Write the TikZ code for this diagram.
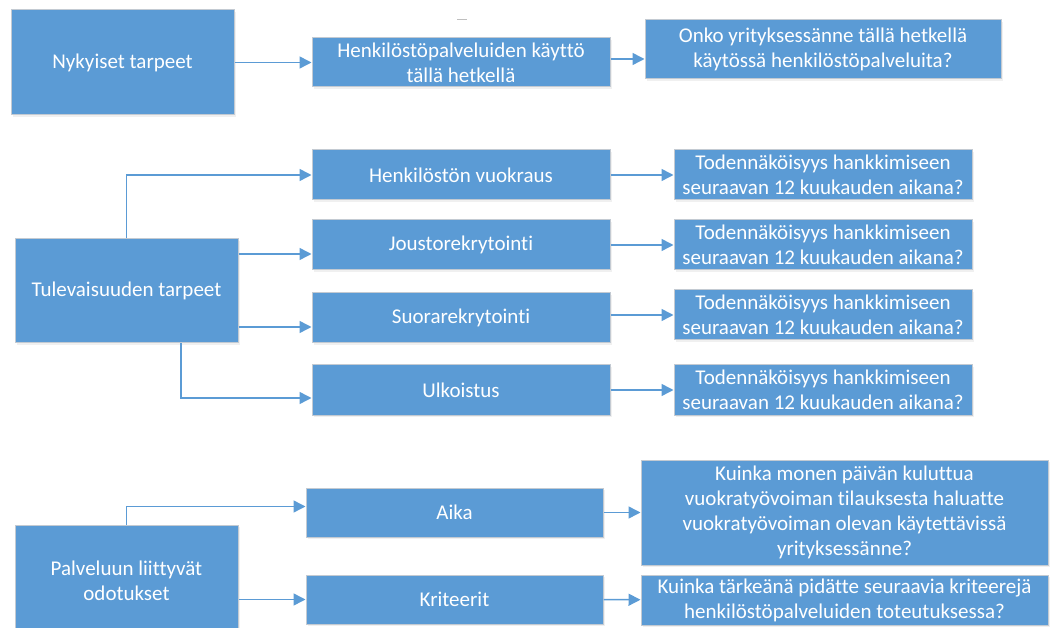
\documentclass[tikz,border=0pt]{standalone}
\usepackage{fontspec}
\setmainfont{Carlito}[Ligatures=NoCommon]
\usetikzlibrary{arrows.meta, shadows}

\definecolor{boxblue}{HTML}{5B9BD5}
\definecolor{boxedge}{HTML}{C3CAD2}

\tikzset{
  box/.style={draw=boxedge, fill=boxblue, line width=1pt, text=white,
    align=center, inner sep=0pt, font=\fontsize{21}{25}\selectfont,
    drop shadow={shadow xshift=1.5pt, shadow yshift=-2pt, opacity=0.12}},
  sz/.style 2 args={minimum width=#1, minimum height=#2},
  arr/.style={draw=boxblue, line width=1.5pt, -{Triangle[length=12pt,width=12pt]}}
}

\begin{document}
\begin{tikzpicture}[x=1pt, y=-1pt]
\useasboundingbox (0,0) rectangle (1050,628);

% nykyiset tarpeet
\node[box, sz={223pt}{105pt}] (now) at (122.5,62.5) {Nykyiset tarpeet};
\node[box, sz={298pt}{49pt}] (use) at (461,62.5) {Henkilöstöpalveluiden käyttö\\tällä hetkellä};
\node[box, sz={356pt}{59pt}] (q1) at (823,49.5) {Onko yrityksessänne tällä hetkellä\\käytössä henkilöstöpalveluita?};
\draw[gray!50, line width=1pt] (457,20) -- (467,20);

% tulevaisuuden tarpeet
\node[box, sz={223pt}{104pt}] (future) at (126.5,291) {Tulevaisuuden tarpeet};
\node[box, sz={298pt}{50pt}] (hire) at (461,175) {Henkilöstön vuokraus};
\node[box, sz={298pt}{50pt}] (flex) at (461,245) {Joustorekrytointi};
\node[box, sz={298pt}{50pt}] (direct) at (461,318) {Suorarekrytointi};
\node[box, sz={298pt}{50pt}] (outs) at (461,390) {Ulkoistus};
\node[box, sz={298pt}{50pt}] (p1) at (823,175) {Todennäköisyys hankkimiseen\\seuraavan 12 kuukauden aikana?};
\node[box, sz={298pt}{50pt}] (p2) at (823,245) {Todennäköisyys hankkimiseen\\seuraavan 12 kuukauden aikana?};
\node[box, sz={298pt}{50pt}] (p3) at (823,315) {Todennäköisyys hankkimiseen\\seuraavan 12 kuukauden aikana?};
\node[box, sz={298pt}{50pt}] (p4) at (823,390) {Todennäköisyys hankkimiseen\\seuraavan 12 kuukauden aikana?};

% palveluun liittyvat odotukset
\node[box, sz={223pt}{112pt}] (expect) at (126.5,581) {Palveluun liittyvät\\odotukset};
\node[box, sz={297pt}{49pt}] (aika) at (454.5,512.5) {Aika};
\node[box, sz={297pt}{49pt}] (krit) at (454.5,599.5) {Kriteerit};
\node[box, sz={407pt}{105pt}] (kq1) at (844.5,512.5) {Kuinka monen päivän kuluttua\\vuokratyövoiman tilauksesta haluatte\\vuokratyövoiman olevan käytettävissä\\yrityksessänne?};
\node[box, sz={407pt}{50pt}] (kq2) at (844.5,600) {Kuinka tärkeänä pidätte seuraavia kriteerejä\\henkilöstöpalveluiden toteutuksessa?};

\coordinate (usout) at ([yshift=3.5pt]use.east);
\coordinate (flexin) at ([yshift=-9pt]flex.west);
\coordinate (directin) at ([yshift=-9pt]direct.west);
\coordinate (outsin) at ([yshift=-8pt]outs.west);
\coordinate (aikain) at ([yshift=6pt]aika.west);

\draw[arr] (now) -- (use);
\draw[arr] (usout) -- (usout -| q1.west);

\draw[arr] (future.north) |- (hire.west);
\draw[arr] (future.east |- flexin) -- (flexin);
\draw[arr] (future.east |- directin) -- (directin);
\draw[arr] ([xshift=54.5pt]future.south) |- (outsin);
\draw[arr] (hire) -- (p1);
\draw[arr] (flex) -- (p2);
\draw[arr] (direct.east |- p3) -- (p3.west);
\draw[arr] (outs) -- (p4);

\draw[arr] (expect.north) |- (aikain);
\draw[arr] (expect.east |- krit) -- (krit.west);
\draw[arr] (aika) -- (kq1);
\draw[arr] (krit) -- (kq2);
\end{tikzpicture}
\end{document}
